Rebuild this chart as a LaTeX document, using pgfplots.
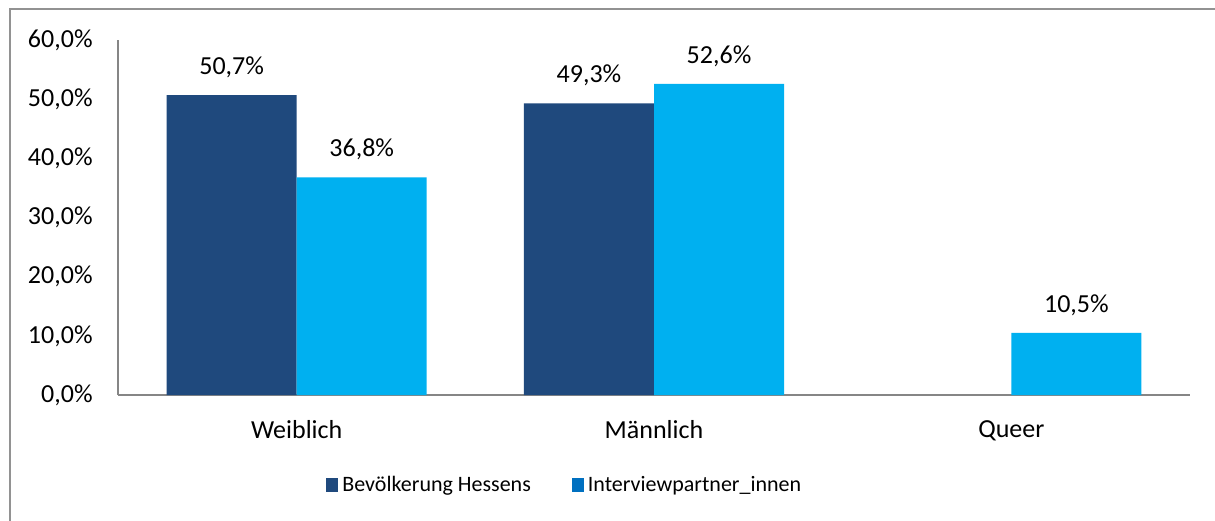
\documentclass[border=0pt]{standalone}
\usepackage{pgfplots}
\pgfplotsset{compat=1.18}
\usepackage{fontspec}
\setmainfont{Carlito}
\definecolor{darkblue}{HTML}{1F497D}
\definecolor{lightblue}{HTML}{00B0F0}
\definecolor{legblue}{HTML}{0070C0}
\definecolor{axisgray}{HTML}{868686}
\begin{document}
\begin{tikzpicture}
\useasboundingbox (0,0) rectangle (607.5pt,260pt);
\fill[white] (0,0) rectangle (607.5pt,260pt);
\draw[color=axisgray!90, line width=1pt] (4.75pt,-5pt) -- (4.75pt,255.25pt) -- (615pt,255.25pt);
\begin{axis}[
  at={(59pt,62.5pt)}, anchor=south west,
  scale only axis,
  width=536pt, height=177.5pt,
  ybar=0pt, bar width=0.364,
  xmin=-0.5, xmax=2.5, ymin=0, ymax=60,
  enlargelimits=false,
  axis x line*=bottom, axis y line*=left,
  axis line style={color=axisgray, line width=1pt},
  major tick length=0pt,
  xtick={0,1,2}, xticklabels={Weiblich,Männlich,Queer},
  ytick={0,10,20,30,40,50,60},
  yticklabels={{0,0\%},{10,0\%},{20,0\%},{30,0\%},{40,0\%},{50,0\%},{60,0\%}},
  tick label style={font=\fontsize{13pt}{15pt}\selectfont, text=black},
  yticklabel style={inner sep=0pt, xshift=-12.5pt},
  xticklabel style={inner sep=0pt, yshift=-12.5pt},
  /pgf/number format/assume math mode=true,
  nodes near coords={\pgfmathprintnumber[fixed,precision=1,fixed zerofill,use comma]{\pgfplotspointmeta}\%},
  nodes near coords style={font=\fontsize{13pt}{15pt}\selectfont, text=black, anchor=south, inner sep=0pt, yshift=8.5pt},
  legend style={at={(0.194,-0.2535)}, anchor=west, draw=none, inner sep=0pt,
    font=\fontsize{11pt}{13pt}\selectfont, legend columns=2,
    /tikz/every even column/.append style={column sep=18.5pt}},
  legend cell align=left,
]
\addplot[fill=darkblue, draw=none,
  legend image code/.code={\fill[darkblue] (0pt,-3.5pt) rectangle (6pt,3.5pt);}]
  coordinates {(0,50.7) (1,49.3)};
\addlegendentry{Bevölkerung Hessens}
\addplot[fill=lightblue, draw=none,
  legend image code/.code={\fill[legblue] (0pt,-3.5pt) rectangle (6pt,3.5pt);}]
  coordinates {(0,36.8) (1,52.6) (2,10.5)};
\addlegendentry{Interviewpartner\_innen}
\end{axis}
\end{tikzpicture}
\end{document}
